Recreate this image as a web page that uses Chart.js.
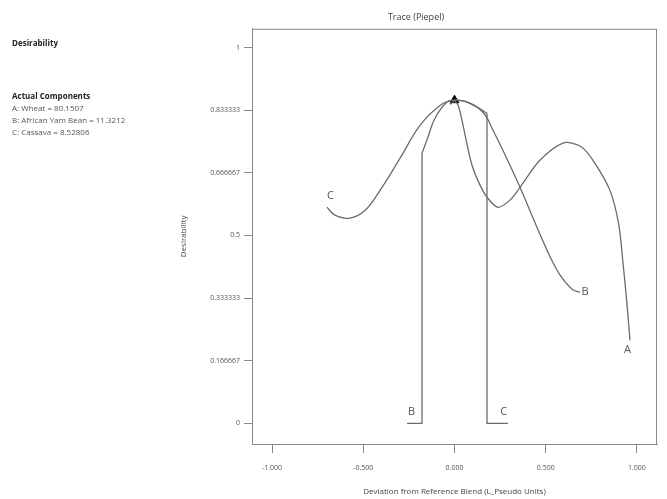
<!DOCTYPE html>
<html>
<head>
<meta charset="utf-8">
<script src="https://cdn.jsdelivr.net/npm/chart.js@4/dist/chart.umd.min.js"></script>
<style>
  html, body { margin: 0; padding: 0; background: #fff; }
  #wrap { width: 667px; height: 499px; position: relative; }
</style>
</head>
<body>
<div id="wrap"><canvas id="myChart"></canvas></div>
<script>
// trace data, x = deviation from reference blend, y = desirability
let traceAX = [-0.025, 0, 0.019, 0.041, 0.058, 0.096, 0.140, 0.178, 0.238, 0.304, 0.359, 0.468, 0.595, 0.688, 0.759, 0.852, 0.900, 0.925, 0.945, 0.962],
    traceAY = [0.849, 0.857, 0.847, 0.807, 0.767, 0.687, 0.634, 0.602, 0.575, 0.594, 0.628, 0.700, 0.746, 0.738, 0.700, 0.620, 0.530, 0.420, 0.320, 0.221];

let traceBX = [-0.178, -0.151, -0.107, -0.041, 0, 0.068, 0.156, 0.211, 0.304, 0.359, 0.507, 0.578, 0.644, 0.688],
    traceBY = [0.719, 0.754, 0.812, 0.855, 0.860, 0.855, 0.828, 0.780, 0.687, 0.628, 0.461, 0.395, 0.357, 0.349];
let dropBX = [-0.26, -0.178, -0.178],
    dropBY = [0, 0, 0.719];

let traceCX = [-0.699, -0.655, -0.573, -0.490, -0.408, -0.299, -0.189, -0.079, 0, 0.085, 0.178],
    traceCY = [0.575, 0.554, 0.546, 0.567, 0.620, 0.705, 0.793, 0.846, 0.860, 0.852, 0.825];
let dropCX = [0.178, 0.178, 0.293],
    dropCY = [0.825, 0, 0];

let refX = [0], refY = [0.860];

let xTicks = [-1, -0.5, 0, 0.5, 1],
    xTickLabels = ["-1.000", "-0.500", "0.000", "0.500", "1.000"];
let yTicks = [0, 1/6, 2/6, 3/6, 4/6, 5/6, 1],
    yTickLabels = ["0", "0.166667", "0.333333", "0.5", "0.666667", "0.833333", "1"];

// trace end labels
let traceLabels = ["C", "B", "A", "B", "C"],
    labelX = [-0.68, 0.715, 0.948, -0.235, 0.27],
    labelY = [0.605, 0.35, 0.195, 0.03, 0.03];

let sideTitle = "Desirability",
    sideHeader = "Actual Components",
    sideLines = ["A: Wheat = 80.1507", "B: African Yam Bean = 11.3212", "C: Cassava = 8.52806"];

function pts(xs, ys) {
    return xs.map((x, i) => ({ x: x, y: ys[i] }));
}

const lineColor = '#6b6b6b';
function curve(xs, ys, tension) {
    return {
        data: pts(xs, ys),
        borderColor: lineColor,
        borderWidth: 1.3,
        pointRadius: 0,
        tension: tension,
        fill: false
    };
}

const extras = {
    id: 'extras',
    afterDatasetsDraw(chart) {
        const c = chart.ctx, a = chart.chartArea;
        const xs = chart.scales.x, ys = chart.scales.y;
        c.save();
        c.strokeStyle = '#8a8a8a';
        c.lineWidth = 1;
        c.strokeRect(a.left + 0.5, a.top + 0.5, a.right - a.left - 1, a.bottom - a.top);
        c.fillStyle = '#555';
        c.font = '11px "Open Sans"';
        c.textAlign = 'center';
        c.textBaseline = 'middle';
        traceLabels.forEach((t, i) => {
            c.fillText(t, xs.getPixelForValue(labelX[i]), ys.getPixelForValue(labelY[i]));
        });
        c.restore();
    },
    afterDraw(chart) {
        const c = chart.ctx;
        c.save();
        c.fillStyle = '#222';
        c.textBaseline = 'middle';
        c.font = 'bold 8px "Open Sans"';
        c.fillText(sideTitle, 12, 44);
        c.fillText(sideHeader, 12, 97);
        c.fillStyle = '#555';
        c.font = '8px "Open Sans"';
        sideLines.forEach((s, i) => c.fillText(s, 12, 109 + i * 12));
        c.restore();
    }
};

var ctx = document.getElementById('myChart').getContext('2d');

var myChart = new Chart(ctx, {
    type: 'line',
    data: {
        datasets: [
            curve(traceAX, traceAY, 0.3),
            curve(traceBX, traceBY, 0.4),
            curve(dropBX, dropBY, 0),
            curve(traceCX, traceCY, 0.4),
            curve(dropCX, dropCY, 0),
            {
                data: pts(refX, refY),
                showLine: false,
                pointStyle: 'triangle',
                pointRadius: 5,
                pointBackgroundColor: '#000',
                pointBorderColor: '#000'
            }
        ]
    },
    options: {
        responsive: true,
        maintainAspectRatio: false,
        animation: false,
        layout: { padding: { left: 175, top: 12, right: 10, bottom: 0 } },
        plugins: {
            legend: { display: false },
            tooltip: { enabled: false },
            title: {
                display: true,
                text: 'Trace (Piepel)',
                color: '#444',
                font: { family: 'Open Sans', size: 9, weight: 'normal' },
                padding: { top: 0, bottom: 6 }
            }
        },
        scales: {
            x: {
                type: 'linear',
                min: -1.11,
                max: 1.11,
                afterBuildTicks: (s) => { s.ticks = xTicks.map(v => ({ value: v })); },
                afterFit: (s) => { s.height = 55; },
                ticks: {
                    callback: (v) => xTickLabels[xTicks.indexOf(v)],
                    color: '#555',
                    font: { family: 'Open Sans', size: 7 },
                    padding: 11,
                    maxRotation: 0
                },
                grid: { drawOnChartArea: false, tickLength: 9, color: '#8a8a8a' },
                border: { color: '#8a8a8a' },
                title: {
                    display: true,
                    text: 'Deviation from Reference Blend (L_Pseudo Units)',
                    color: '#444',
                    font: { family: 'Open Sans', size: 8 },
                    padding: { top: 10, bottom: 2 }
                }
            },
            y: {
                type: 'linear',
                min: -0.055,
                max: 1.05,
                afterBuildTicks: (s) => { s.ticks = yTicks.map(v => ({ value: v })); },
                afterFit: (s) => { s.width = 77; },
                ticks: {
                    callback: (v) => yTickLabels[yTicks.findIndex(t => Math.abs(t - v) < 1e-9)],
                    color: '#555',
                    font: { family: 'Open Sans', size: 7 },
                    padding: 4
                },
                grid: { drawOnChartArea: false, tickLength: 8, color: '#8a8a8a' },
                border: { color: '#8a8a8a' },
                title: {
                    display: true,
                    text: 'Desirability',
                    color: '#444',
                    font: { family: 'Open Sans', size: 8 },
                    padding: { bottom: 14 }
                }
            }
        }
    },
    plugins: [extras]
});
</script>
</body>
</html>
